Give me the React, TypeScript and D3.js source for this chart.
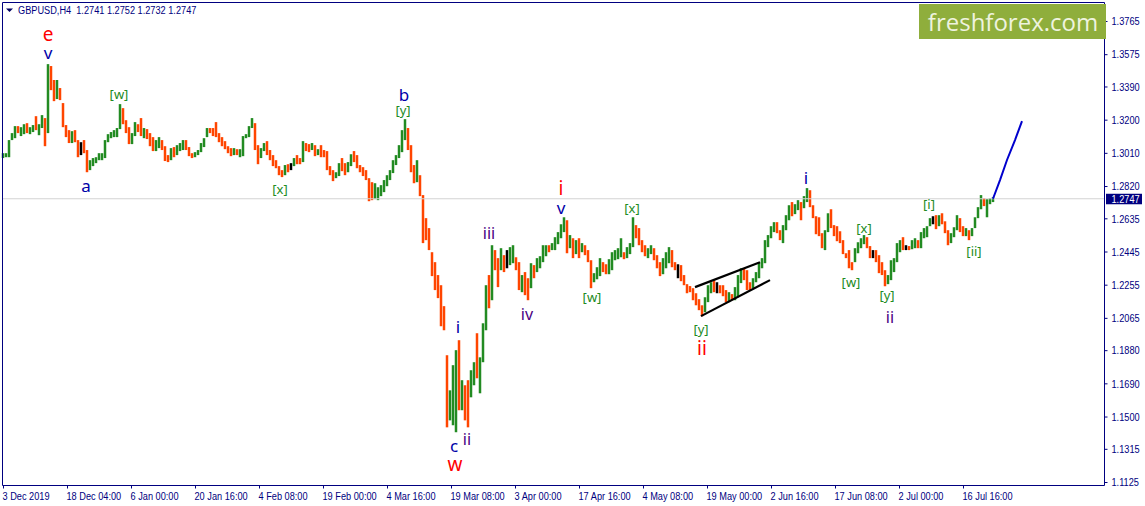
import React, { useEffect, useRef } from 'react';
import * as d3 from 'd3';

// high, low, close (one sampled bar for every 3 H4 bars)
type Bar = [number, number, number];

const barsDec: Bar[] = [
  [1.3008,1.2980,1.2991],[1.3008,1.2985,1.3002],[1.3083,1.2985,1.3077],[1.3123,1.3083,1.3111],[1.3163,1.3094,1.3152],
  [1.3163,1.3123,1.3134],[1.3157,1.3106,1.3140],[1.3174,1.3117,1.3152],[1.3180,1.3123,1.3140],[1.3157,1.3117,1.3146],
  [1.3169,1.3129,1.3157],[1.3220,1.3140,1.3146],[1.3174,1.3111,1.3163],[1.3226,1.3152,1.3215],[1.3209,1.3048,1.3123],
  [1.3518,1.3123,1.3507],[1.3507,1.3369,1.3392],[1.3427,1.3306,1.3341],[1.3427,1.3318,1.3369],[1.3381,1.3312,1.3341],
  [1.3295,1.3157,1.3180],[1.3169,1.3100,1.3111],[1.3140,1.3066,1.3077],[1.3134,1.3066,1.3123],[1.3140,1.3071,1.3083],
  [1.3083,1.2985,1.3026],[1.3071,1.2997,1.3020],[1.3083,1.3008,1.3014],[1.3026,1.2899,1.2922],
];

const barsJan: Bar[] = [
  [1.2968,1.2911,1.2951],[1.2980,1.2934,1.2963],[1.2985,1.2951,1.2968],[1.3008,1.2968,1.2980],[1.3008,1.2968,1.2997],
  [1.3083,1.2980,1.3071],[1.3117,1.3071,1.3106],[1.3129,1.3094,1.3111],[1.3140,1.3100,1.3129],[1.3152,1.3100,1.3146],
  [1.3289,1.3146,1.3266],[1.3266,1.3174,1.3197],[1.3197,1.3123,1.3129],[1.3157,1.3060,1.3083],[1.3123,1.3060,1.3106],
  [1.3186,1.3106,1.3169],[1.3174,1.3129,1.3152],[1.3209,1.3106,1.3123],[1.3152,1.3094,1.3129],[1.3146,1.3089,1.3117],
  [1.3123,1.3048,1.3094],[1.3100,1.3020,1.3037],[1.3083,1.3020,1.3060],[1.3100,1.3037,1.3077],[1.3083,1.3026,1.3043],
  [1.3048,1.2963,1.2980],[1.2997,1.2957,1.2968],[1.3037,1.2968,1.3014],[1.3043,1.2985,1.2997],[1.3054,1.2997,1.3037],
  [1.3066,1.3020,1.3048],[1.3083,1.3026,1.3060],[1.3083,1.3026,1.3043],[1.3043,1.2991,1.3002],[1.3008,1.2980,1.2991],
  [1.3014,1.2985,1.2997],[1.3026,1.2997,1.3020],[1.3066,1.3014,1.3054],[1.3094,1.3043,1.3083],[1.3152,1.3100,1.3140],
  [1.3152,1.3123,1.3134],[1.3152,1.3106,1.3117],[1.3186,1.3100,1.3111],[1.3123,1.3071,1.3089],[1.3100,1.3048,1.3066],
  [1.3077,1.3031,1.3048],[1.3048,1.3008,1.3020],[1.3037,1.2991,1.3008],[1.3037,1.2997,1.3020],[1.3031,1.2997,1.3008],
  [1.3031,1.2985,1.3014],[1.3106,1.2991,1.3094],[1.3117,1.3094,1.3106],[1.3163,1.3100,1.3152],[1.3209,1.3152,1.3186],
  [1.3180,1.3026,1.3048],
];

const barsFeb: Bar[] = [
  [1.3054,1.2945,1.2985],[1.3037,1.2980,1.3026],[1.3066,1.3020,1.3037],[1.3077,1.2997,1.3014],[1.3026,1.2968,1.2980],
  [1.2997,1.2934,1.2945],[1.2968,1.2922,1.2940],[1.2934,1.2882,1.2899],[1.2911,1.2871,1.2888],[1.2940,1.2882,1.2922],
  [1.2945,1.2899,1.2911],[1.2951,1.2911,1.2940],[1.2980,1.2934,1.2968],[1.2997,1.2945,1.2963],[1.2980,1.2945,1.2957],
  [1.3077,1.2957,1.3054],[1.3066,1.3020,1.3048],[1.3060,1.3014,1.3031],[1.3066,1.3026,1.3048],[1.3054,1.2991,1.3008],
  [1.3031,1.2997,1.3020],[1.3054,1.2985,1.3002],[1.3026,1.2985,1.2997],[1.3020,1.2911,1.2922],[1.2934,1.2882,1.2899],
  [1.2911,1.2848,1.2865],[1.2899,1.2865,1.2888],[1.2951,1.2877,1.2940],[1.2980,1.2905,1.2922],[1.2951,1.2882,1.2911],
  [1.2957,1.2899,1.2940],[1.3002,1.2934,1.2985],[1.3020,1.2957,1.2980],[1.2997,1.2922,1.2940],[1.2940,1.2899,1.2911],
  [1.2928,1.2877,1.2888],[1.2911,1.2854,1.2865],[1.2865,1.2733,1.2768],[1.2842,1.2739,1.2756],[1.2836,1.2745,1.2768],
  [1.2813,1.2739,1.2785],[1.2825,1.2762,1.2796],[1.2854,1.2785,1.2836],
];

const barsMar: Bar[] = [
  [1.2882,1.2819,1.2865],[1.2911,1.2854,1.2899],[1.2968,1.2894,1.2951],[1.2997,1.2940,1.2985],[1.3054,1.2980,1.3037],
  [1.3140,1.3014,1.3123],[1.3203,1.3083,1.3152],[1.3152,1.3026,1.3043],[1.3054,1.2899,1.2922],[1.2940,1.2836,1.2854],
  [1.2968,1.2842,1.2877],[1.2882,1.2762,1.2779],[1.2768,1.2493,1.2596],[1.2636,1.2510,1.2539],[1.2579,1.2453,1.2476],
  [1.2441,1.2304,1.2338],[1.2384,1.2224,1.2264],[1.2310,1.2178,1.2224],[1.2252,1.2017,1.2052],[1.2132,1.1994,1.2011],
  [1.1851,1.1438,1.1507],[1.1650,1.1478,1.1524],[1.1794,1.1450,1.1564],[1.1880,1.1410,1.1822],[1.1937,1.1536,1.1622],
  [1.1708,1.1536,1.1679],[1.1679,1.1478,1.1507],[1.1708,1.1438,1.1478],[1.1765,1.1610,1.1736],[1.1811,1.1679,1.1765],
  [1.1977,1.1719,1.1753],[1.1839,1.1633,1.1822],[1.2034,1.1811,1.2006],[1.2252,1.1994,1.2195],[1.2310,1.2120,1.2166],
  [1.2481,1.2166,1.2453],[1.2453,1.2338,1.2384],[1.2407,1.2241,1.2281],[1.2464,1.2338,1.2424],[1.2424,1.2327,1.2407],
  [1.2453,1.2349,1.2384],[1.2470,1.2367,1.2407],
];

const barsApr: Bar[] = [
  [1.2481,1.2378,1.2418],[1.2412,1.2338,1.2367],[1.2384,1.2224,1.2269],[1.2310,1.2212,1.2281],[1.2327,1.2195,1.2264],
  [1.2292,1.2166,1.2195],[1.2378,1.2235,1.2338],[1.2367,1.2292,1.2327],[1.2407,1.2327,1.2384],[1.2418,1.2349,1.2395],
  [1.2481,1.2384,1.2453],[1.2481,1.2418,1.2464],[1.2481,1.2441,1.2453],[1.2493,1.2453,1.2481],[1.2527,1.2453,1.2510],
  [1.2556,1.2487,1.2539],[1.2601,1.2521,1.2579],[1.2641,1.2556,1.2624],[1.2624,1.2435,1.2493],[1.2539,1.2464,1.2521],
  [1.2521,1.2407,1.2453],[1.2510,1.2430,1.2493],[1.2521,1.2407,1.2453],[1.2493,1.2441,1.2476],[1.2481,1.2424,1.2453],
  [1.2453,1.2384,1.2407],[1.2395,1.2235,1.2269],[1.2321,1.2269,1.2292],[1.2355,1.2286,1.2327],[1.2407,1.2304,1.2367],
  [1.2384,1.2327,1.2349],[1.2372,1.2315,1.2338],[1.2401,1.2315,1.2367],[1.2441,1.2338,1.2407],[1.2453,1.2395,1.2412],
  [1.2464,1.2401,1.2424],[1.2521,1.2412,1.2441],[1.2441,1.2401,1.2424],[1.2470,1.2407,1.2453],[1.2493,1.2430,1.2470],
  [1.2641,1.2470,1.2613],[1.2596,1.2521,1.2556],[1.2579,1.2481,1.2510],
];

const barsMay: Bar[] = [
  [1.2510,1.2441,1.2464],[1.2481,1.2418,1.2441],[1.2464,1.2407,1.2453],[1.2481,1.2430,1.2470],[1.2464,1.2395,1.2412],
  [1.2424,1.2349,1.2367],[1.2384,1.2304,1.2321],[1.2407,1.2315,1.2384],[1.2441,1.2349,1.2407],[1.2470,1.2378,1.2424],
  [1.2453,1.2355,1.2384],[1.2384,1.2338,1.2349],[1.2372,1.2292,1.2310],[1.2367,1.2275,1.2292],[1.2310,1.2252,1.2269],
  [1.2258,1.2206,1.2235],[1.2247,1.2212,1.2218],[1.2235,1.2166,1.2195],[1.2206,1.2137,1.2155],[1.2172,1.2109,1.2126],
  [1.2137,1.2074,1.2097],[1.2183,1.2097,1.2166],[1.2252,1.2155,1.2224],[1.2269,1.2206,1.2252],[1.2281,1.2212,1.2235],
  [1.2269,1.2206,1.2258],[1.2252,1.2206,1.2224],[1.2252,1.2189,1.2206],[1.2224,1.2155,1.2178],[1.2212,1.2155,1.2189],
  [1.2201,1.2166,1.2178],[1.2241,1.2166,1.2224],[1.2310,1.2183,1.2281],[1.2349,1.2264,1.2327],[1.2349,1.2281,1.2310],
  [1.2338,1.2224,1.2252],[1.2269,1.2224,1.2247],[1.2292,1.2235,1.2281],[1.2327,1.2269,1.2310],[1.2384,1.2292,1.2367],
  [1.2407,1.2349,1.2395],[1.2510,1.2378,1.2487],[1.2539,1.2470,1.2521],
];

const barsJun: Bar[] = [
  [1.2590,1.2521,1.2567],[1.2613,1.2556,1.2590],[1.2613,1.2550,1.2567],[1.2567,1.2510,1.2533],[1.2596,1.2493,1.2579],
  [1.2653,1.2567,1.2636],[1.2710,1.2624,1.2682],[1.2728,1.2647,1.2670],[1.2716,1.2659,1.2693],[1.2739,1.2682,1.2716],
  [1.2728,1.2624,1.2705],[1.2762,1.2693,1.2750],[1.2808,1.2728,1.2785],[1.2796,1.2699,1.2716],[1.2710,1.2636,1.2647],
  [1.2647,1.2544,1.2567],[1.2641,1.2533,1.2556],[1.2550,1.2464,1.2498],[1.2567,1.2453,1.2544],[1.2664,1.2556,1.2647],
  [1.2687,1.2579,1.2601],[1.2596,1.2533,1.2556],[1.2590,1.2504,1.2533],[1.2561,1.2493,1.2510],[1.2510,1.2430,1.2441],
  [1.2435,1.2407,1.2418],[1.2453,1.2349,1.2372],[1.2384,1.2338,1.2361],[1.2464,1.2384,1.2441],[1.2498,1.2435,1.2481],
  [1.2521,1.2464,1.2510],[1.2539,1.2487,1.2521],[1.2527,1.2464,1.2481],[1.2476,1.2407,1.2430],[1.2453,1.2407,1.2424],
  [1.2453,1.2384,1.2407],[1.2424,1.2321,1.2349],[1.2384,1.2310,1.2338],[1.2338,1.2246,1.2281],[1.2310,1.2258,1.2292],
  [1.2395,1.2281,1.2372],[1.2407,1.2327,1.2384],[1.2493,1.2384,1.2476],
];

const barsJul: Bar[] = [
  [1.2510,1.2441,1.2487],[1.2527,1.2453,1.2470],[1.2481,1.2453,1.2470],[1.2476,1.2453,1.2464],[1.2510,1.2458,1.2498],
  [1.2521,1.2464,1.2504],[1.2510,1.2464,1.2481],[1.2556,1.2464,1.2533],[1.2579,1.2521,1.2556],[1.2590,1.2527,1.2579],
  [1.2636,1.2590,1.2624],[1.2647,1.2601,1.2636],[1.2653,1.2573,1.2601],[1.2653,1.2590,1.2636],[1.2664,1.2601,1.2624],
  [1.2618,1.2550,1.2579],[1.2567,1.2481,1.2510],[1.2550,1.2493,1.2533],[1.2584,1.2527,1.2567],[1.2653,1.2567,1.2636],
  [1.2636,1.2556,1.2579],[1.2590,1.2533,1.2556],[1.2579,1.2533,1.2556],[1.2567,1.2510,1.2533],[1.2579,1.2533,1.2567],
  [1.2641,1.2579,1.2624],[1.2699,1.2636,1.2682],[1.2768,1.2687,1.2739],[1.2750,1.2705,1.2722],[1.2745,1.2641,1.2733],
  [1.2750,1.2716,1.2739],[1.2756,1.2728,1.2747],
];

const bars = [...barsDec, ...barsJan, ...barsFeb, ...barsMar, ...barsApr, ...barsMay, ...barsJun, ...barsJul];

// sampled bars with open == close, drawn black
const dojiBars = [26, 96, 168, 225, 238, 290, 301, 310];

const priceTicks = [1.3765, 1.3575, 1.339, 1.32, 1.301, 1.282, 1.2635, 1.2445, 1.2255, 1.2065, 1.188, 1.169, 1.15, 1.1315, 1.1125];
const timeLabels = ['3 Dec 2019', '18 Dec 04:00', '6 Jan 00:00', '20 Jan 16:00', '4 Feb 08:00', '19 Feb 00:00', '4 Mar 16:00', '19 Mar 08:00',
  '3 Apr 00:00', '17 Apr 16:00', '4 May 08:00', '19 May 00:00', '2 Jun 16:00', '17 Jun 08:00', '2 Jul 00:00', '16 Jul 16:00'];

const lastPrice = 1.2747;
const quoteText = 'GBPUSD,H4  1.2741 1.2752 1.2732 1.2747';

// [bar, price] pairs in H4 bars
const channelUpper: [number, number][] = [[692, 1.2241], [757, 1.2384]];
const channelLower: [number, number][] = [[698, 1.2075], [767, 1.2281]];
const projection: [number, number][] = [[990, 1.2747], [997, 1.2854], [1004, 1.2969], [1012, 1.3083], [1019, 1.3192]];

// label, bar, price, degree
const waveLabels: [string, number, number, string][] = [
  ['e', 45, 1.369, 'primary'], ['v', 45, 1.3587, 'intermediate'], ['[w]', 116, 1.3346, 'minute'], ['a', 83, 1.2825, 'intermediate'],
  ['[x]', 277, 1.2802, 'minute'], ['b', 401, 1.3346, 'intermediate'], ['[y]', 400, 1.3255, 'minute'], ['iii', 486, 1.255, 'minor'],
  ['i', 455, 1.2017, 'intermediate'], ['c', 451, 1.1335, 'intermediate'], ['ii', 464, 1.137, 'minor'], ['w', 452, 1.1226, 'primary'],
  ['iv', 524, 1.2086, 'minor'], ['i', 558, 1.2808, 'primary'], ['v', 558, 1.2699, 'intermediate'], ['[w]', 589, 1.2183, 'minute'],
  ['[x]', 629, 1.2693, 'minute'], ['[y]', 698, 1.2, 'minute'], ['ii', 699, 1.1891, 'primary'], ['i', 803, 1.2871, 'intermediate'],
  ['[x]', 861, 1.2579, 'minute'], ['[w]', 848, 1.2269, 'minute'], ['[y]', 884, 1.2195, 'minute'], ['ii', 887, 1.2069, 'minor'],
  ['[i]', 926, 1.2716, 'minute'], ['[ii]', 971, 1.2447, 'minute'],
];

const degreeColor: Record<string, string> = { primary: '#ff0000', intermediate: '#0000a8', minor: '#4b0082', minute: '#228b22' };
const degreeSize: Record<string, number> = { primary: 19, intermediate: 17, minor: 16, minute: 13 };

const WIDTH = 1145;
const HEIGHT = 506;
const FONT = '"Noto Sans", sans-serif';
const AXIS_FONT = '11.5px "Liberation Sans", sans-serif';
const SQUEEZE = 0.8; // the terminal font is narrower than anything installed
const NAVY = '#000080';

const App: React.FC = () => {
  const svgRef = useRef<SVGSVGElement>(null);

  useEffect(() => {
    if (!svgRef.current) return;
    const svg = d3.select(svgRef.current);
    svg.selectAll('*').remove();

    const x = d3.scaleLinear().domain([0, 1101]).range([3, 1104]);
    const y = d3.scaleLinear().domain([1.1125, 1.3765]).range([482, 21]);

    // price bars
    svg.append('g')
      .selectAll('line')
      .data(bars)
      .enter().append('line')
      .attr('x1', (_, i) => x(i * 3))
      .attr('x2', (_, i) => x(i * 3))
      .attr('y1', d => y(d[0]))
      .attr('y2', d => y(d[1]))
      .attr('stroke-width', 2.5)
      .attr('stroke', (d, i) => {
        if (dojiBars.includes(i)) return '#000000';
        const prev = i > 0 ? bars[i - 1][2] : d[2];
        return d[2] >= prev ? '#228b22' : '#ff4500';
      });

    // last price line
    svg.append('line')
      .attr('x1', 3).attr('x2', 1104)
      .attr('y1', y(lastPrice)).attr('y2', y(lastPrice))
      .attr('stroke', '#d3d3d3');

    const line = d3.line<[number, number]>().x(d => x(d[0])).y(d => y(d[1]));

    [channelUpper, channelLower].forEach(pts => {
      svg.append('path').attr('d', line(pts)).attr('fill', 'none').attr('stroke', '#000').attr('stroke-width', 2.2);
    });
    svg.append('path').attr('d', line(projection)).attr('fill', 'none').attr('stroke', '#0000cd').attr('stroke-width', 2);

    // frame
    svg.append('path')
      .attr('d', 'M2.5,485.5V2.5H1104.5V485.5H2.5')
      .attr('fill', 'none')
      .attr('stroke', NAVY);

    // axes
    const yAxis = d3.axisRight(y)
      .tickValues(priceTicks)
      .tickFormat(d => d3.format('.4f')(d as number))
      .tickSize(3)
      .tickSizeOuter(0);
    const gy = svg.append('g').attr('transform', 'translate(1104.5,0)').call(yAxis);
    gy.select('.domain').remove();
    gy.selectAll('line').attr('stroke', NAVY);
    gy.selectAll('text')
      .attr('x', 7 / SQUEEZE)
      .attr('transform', `scale(${SQUEEZE},1)`)
      .attr('fill', NAVY)
      .style('font', AXIS_FONT);

    const xAxis = d3.axisBottom(x)
      .tickValues(timeLabels.map((_, i) => i * 64))
      .tickFormat((_, i) => timeLabels[i])
      .tickSize(3)
      .tickSizeOuter(0);
    const gx = svg.append('g').attr('transform', 'translate(0,485.5)').call(xAxis);
    gx.select('.domain').remove();
    gx.selectAll('line').attr('stroke', NAVY);
    gx.selectAll('text')
      .attr('y', 6)
      .attr('dx', -1 / SQUEEZE)
      .attr('text-anchor', 'start')
      .attr('transform', `scale(${SQUEEZE},1)`)
      .attr('fill', NAVY)
      .style('font', AXIS_FONT);

    // wave labels
    svg.append('g')
      .selectAll('text')
      .data(waveLabels)
      .enter().append('text')
      .attr('x', d => x(d[1]))
      .attr('y', d => y(d[2]))
      .attr('text-anchor', 'middle')
      .attr('dominant-baseline', 'central')
      .attr('fill', d => degreeColor[d[3]])
      .style('font', d => `${degreeSize[d[3]]}px ${FONT}`)
      .text(d => d[0]);

    // quote line
    svg.append('path').attr('d', 'M6,8.5H13L9.5,12Z').attr('fill', '#000060');
    svg.append('text')
      .attr('transform', `translate(18,14) scale(${SQUEEZE},1)`)
      .attr('fill', NAVY)
      .attr('xml:space', 'preserve')
      .style('white-space', 'pre')
      .style('font', AXIS_FONT)
      .text(quoteText);

    // price tag
    svg.append('rect')
      .attr('x', 1106).attr('y', y(lastPrice) - 5)
      .attr('width', 36).attr('height', 10.5)
      .attr('fill', NAVY);
    svg.append('text')
      .attr('transform', `translate(1111.5,${y(lastPrice) + 4}) scale(${SQUEEZE},1)`)
      .attr('fill', '#ffffff')
      .style('font', AXIS_FONT)
      .text(d3.format('.4f')(lastPrice));

    // logo
    svg.append('rect')
      .attr('x', 919).attr('y', 4)
      .attr('width', 187).attr('height', 35)
      .attr('fill', '#8fae3c');
    svg.append('text')
      .attr('x', 1013).attr('y', 30.5)
      .attr('text-anchor', 'middle')
      .attr('fill', '#eef3df')
      .style('font', `24px "Open Sans", sans-serif`)
      .text('freshforex.com');
  }, []);

  return (
    <svg
      ref={svgRef}
      width={WIDTH}
      height={HEIGHT}
      viewBox={`0 0 ${WIDTH} ${HEIGHT}`}
      style={{ position: 'absolute', top: 0, left: 0, display: 'block', background: '#ffffff' }}
    />
  );
};

export default App;
